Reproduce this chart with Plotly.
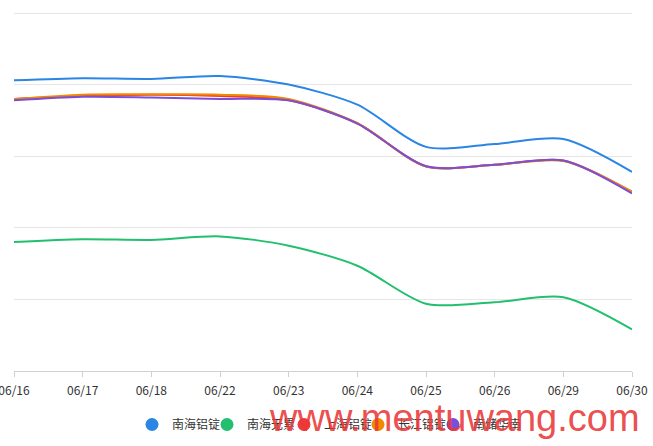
import plotly.graph_objects as go

dates = ["06/16", "06/17", "06/18", "06/22", "06/23", "06/24", "06/25", "06/26", "06/29", "06/30"]

series_names = ["南海铝锭", "南海无累", "上海铝锭", "长江铝锭", "南储华南"]

nanhai_ingot = [19530, 19545, 19540, 19560, 19500, 19360, 19065, 19085, 19120, 18890]
nanhai_other = [18400, 18420, 18415, 18440, 18375, 18235, 17970, 17980, 18015, 17790]
shanghai_ingot = [19400, 19420, 19430, 19420, 19390, 19230, 18930, 18940, 18970, 18750]
changjiang_ingot = [19400, 19430, 19432, 19430, 19400, 19230, 18927, 18940, 18967, 18752]
nanchu_south = [19390, 19415, 19410, 19400, 19390, 19228, 18930, 18940, 18970, 18740]

colors = ["#2a85e4", "#22c06e", "#f03a3a", "#f08a00", "#7a4fd6"]
values = [nanhai_ingot, nanhai_other, shanghai_ingot, changjiang_ingot, nanchu_south]

# legend symbol centres (px) in the 653x446 picture
legend_centres = [152, 227, 304, 378, 453]
ML, PW = 14, 618
PH = 446 - 11 - 75

fig = go.Figure()
for name, vals, col in zip(series_names, values, colors):
    fig.add_trace(go.Scatter(
        x=dates, y=vals, mode="lines", name=name, showlegend=False,
        line=dict(color=col, width=2, shape="spline", smoothing=0.8),
        hoverinfo="x+y+name",
    ))

legend_layouts = {}
for i, (name, col, cx) in enumerate(zip(series_names, colors, legend_centres)):
    key = "legend" if i == 0 else f"legend{i + 1}"
    fig.add_trace(go.Scatter(
        x=[None], y=[None], mode="markers", name=name, showlegend=True,
        marker=dict(color=col, size=13, symbol="circle"), legend=key,
    ))
    legend_layouts[key] = dict(
        orientation="h", x=(cx - 20 - ML) / PW, xanchor="left",
        y=-(410 - 371) / PH, yanchor="top", itemwidth=30,
        font=dict(size=12, color="#333333"), bgcolor="rgba(0,0,0,0)",
    )

fig.update_layout(
    width=653, height=446,
    margin=dict(l=ML, r=21, t=11, b=75, autoexpand=False),
    paper_bgcolor="white", plot_bgcolor="white",
    font=dict(family="Noto Sans CJK SC, Liberation Sans, sans-serif", size=12, color="#333333"),
    showlegend=True,
    xaxis=dict(
        type="category", range=[0, 9], showgrid=False, zeroline=False,
        showline=True, linecolor="#d0d0d0", linewidth=1, automargin=False,
        ticks="outside", ticklen=5, tickcolor="#d0d0d0", ticklabelstandoff=4,
        tickfont=dict(size=12, color="#333333"),
    ),
    yaxis=dict(
        range=[17500, 20014], tick0=17500, dtick=500, showticklabels=False,
        showgrid=True, gridcolor="#e6e6e6", gridwidth=1, zeroline=False,
        showline=False, ticks="", automargin=False,
    ),
    annotations=[dict(
        text="www.mentuwang.com", xref="paper", yref="paper",
        x=0.712, y=-(418 - 371) / PH, xanchor="center", yanchor="middle", showarrow=False,
        font=dict(family="Liberation Sans, Arial, sans-serif", size=38, color="rgba(235,55,55,0.9)"),
    )],
    **legend_layouts,
)

fig.write_html("out.html")
